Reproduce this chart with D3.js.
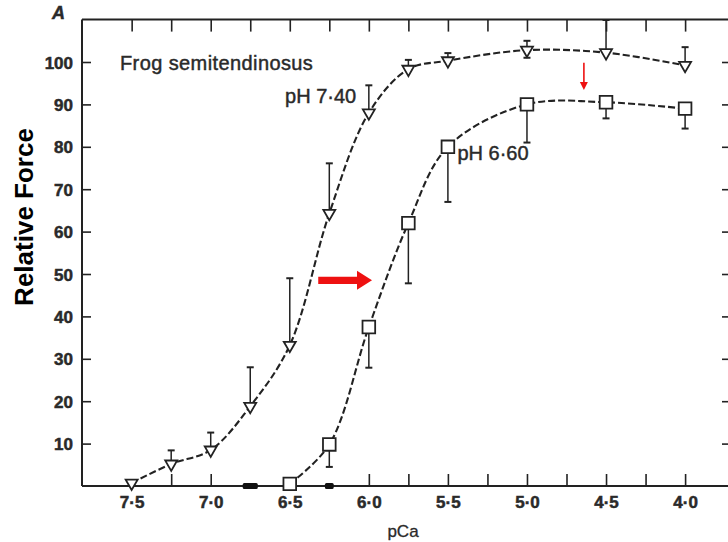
<!DOCTYPE html>
<html>
<head>
<meta charset="utf-8">
<script src="https://cdn.jsdelivr.net/npm/d3@7"></script>
<style>
  html, body { margin: 0; padding: 0; background: #fff; }
  svg { display: block; }
  text { font-family: "Liberation Sans", Arial, Helvetica, sans-serif; }
</style>
</head>
<body>
<svg id="chart" width="728" height="542"></svg>
<script>
// ---------------- data ----------------
const pCa740   = [7.5, 7.25, 7.0, 6.75, 6.5, 6.25, 6.0, 5.75, 5.5, 5.0, 4.5, 4.0];
const force740 = [0.7, 5.2, 8.5, 18.8, 33.2, 64.3, 88.0, 98.3, 100.3, 102.8, 102.2, 99.2];
const errUp740 = [0, 3.2, 4.1, 9.2, 15.8, 11.8, 6.5, 2.2, 1.8, 2.2, 7.7, 4.3];
const errDn740 = [0, 0, 0, 0, 0, 0, 0, 0, 0, 1.8, 0, 0];

const pCa660   = [6.5, 6.25, 6.0, 5.75, 5.5, 5.0, 4.5, 4.0];
const force660 = [0.5, 9.8, 37.5, 62.0, 80.0, 90.0, 90.5, 89.0];
const errDn660 = [0, 5.3, 9.6, 14.2, 13.0, 9.0, 3.8, 4.7];

const yTickValues = [10, 20, 30, 40, 50, 60, 70, 80, 90, 100];
const xLabelValues = [7.5, 7.0, 6.5, 6.0, 5.5, 5.0, 4.5, 4.0];
const xTopTicks = [7.5, 7.25, 7.0, 6.75, 6.5, 6.25, 6.0, 5.75, 5.5, 5.25, 5.0, 4.75, 4.5, 4.25, 4.0];
const xBottomTicks = [7.25, 7.0, 6.0, 5.75, 5.5, 5.25, 5.0, 4.75, 4.5, 4.25, 4.0];
const axisMarks = [{ pCa: 6.75, w: 0.095 }, { pCa: 6.25, w: 0.055 }];

// annotations (red arrows) in data units
const bigArrow = { from: 6.32, to: 5.98, force: 48.5 };
const smallArrow = { pCa: 4.64, from: 99.8, to: 93.4 };

const labelTitle = "Frog semitendinosus";
const labelA = "A";
const label740 = { text: "pH 7·40", pCa: 6.53, force: 90.4 };
const label660 = { text: "pH 6·60", pCa: 5.44, force: 77.0 };
const xTitle = "pCa";
const yTitle = "Relative Force";

// ---------------- scales ----------------
const svg = d3.select("#chart");
const x = d3.scaleLinear().domain([7.814, 3.735]).range([82, 727]);
const y = d3.scaleLinear().domain([0, 110]).range([486, 19.6]);
const fmt = d => d.toFixed(1).replace(".", "·");
const ink = "#222";

// ---------------- frame / axes ----------------
const gL = svg.append("g").attr("transform", `translate(${x.range()[0]},0)`)
  .call(d3.axisLeft(y).tickValues(yTickValues).tickSize(-9).tickPadding(9).tickFormat(d3.format("d")));
const gT = svg.append("g").attr("transform", `translate(0,${y.range()[1]})`)
  .call(d3.axisTop(x).tickValues(xTopTicks).tickSize(-12).tickFormat(""));
const gB = svg.append("g").attr("transform", `translate(0,${y.range()[0]})`)
  .call(d3.axisBottom(x).tickValues(xBottomTicks).tickSize(-12).tickFormat(""));
const gBL = svg.append("g").attr("transform", `translate(0,${y.range()[0]})`)
  .call(d3.axisBottom(x).tickValues(xLabelValues).tickSize(0).tickPadding(10).tickFormat(fmt));
gBL.select(".domain").remove();
const gR = svg.append("g").attr("transform", `translate(729,0)`)
  .call(d3.axisRight(y).tickValues(yTickValues).tickSize(-7).tickFormat(""));

[gL, gT, gB, gR].forEach(g => {
  g.select(".domain").attr("stroke", ink).attr("stroke-width", 2);
  g.selectAll(".tick line").attr("stroke", ink).attr("stroke-width", 1.6);
});
gL.select(".domain").attr("d", `M0,${y.range()[0]}V${y.range()[1]}`);
gT.select(".domain").attr("d", `M${x.range()[0]},0H729`);
gB.select(".domain").attr("d", `M${x.range()[0]},0H729`);
gR.select(".domain").remove();

[gL, gBL].forEach(g => {
  g.selectAll(".tick text")
    .attr("fill", "#2a2a2a")
    .attr("stroke", "#2a2a2a").attr("stroke-width", 0.5)
    .style("font-size", "17px").style("font-weight", "bold");
});
gL.selectAll(".tick text").attr("dy", "0.36em");

// black marks on bottom axis
svg.append("g").selectAll("rect").data(axisMarks).join("rect")
  .attr("x", d => x(d.pCa + d.w / 2))
  .attr("width", d => x(d.pCa - d.w / 2) - x(d.pCa + d.w / 2))
  .attr("y", y(0) - 3).attr("height", 6)
  .attr("rx", 1.5)
  .attr("fill", "#111");

// ---------------- series ----------------
const s740 = pCa740.map((p, i) => ({ p, v: force740[i], up: errUp740[i], dn: errDn740[i] }));
const s660 = pCa660.map((p, i) => ({ p, v: force660[i], up: 0, dn: errDn660[i] }));

function errorBars(data) {
  const g = svg.append("g").attr("stroke", ink).attr("stroke-width", 1.5).attr("fill", "none");
  data.forEach(d => {
    if (d.up > 0) {
      g.append("line").attr("x1", x(d.p)).attr("x2", x(d.p)).attr("y1", y(d.v)).attr("y2", y(d.v + d.up));
      g.append("line").attr("x1", x(d.p) - 3.5).attr("x2", x(d.p) + 3.5).attr("y1", y(d.v + d.up)).attr("y2", y(d.v + d.up)).attr("stroke-width", 2);
    }
    if (d.dn > 0) {
      g.append("line").attr("x1", x(d.p)).attr("x2", x(d.p)).attr("y1", y(d.v)).attr("y2", y(d.v - d.dn));
      g.append("line").attr("x1", x(d.p) - 3.5).attr("x2", x(d.p) + 3.5).attr("y1", y(d.v - d.dn)).attr("y2", y(d.v - d.dn)).attr("stroke-width", 2);
    }
  });
}
errorBars(s740);
errorBars(s660);

const line = d3.line().x(d => x(d.p)).y(d => y(d.v)).curve(d3.curveCatmullRom.alpha(0.5));
[s740, s660].forEach(s => {
  svg.append("path").datum(s).attr("d", line)
    .attr("fill", "none").attr("stroke", ink).attr("stroke-width", 2.1)
    .attr("stroke-dasharray", "7,3");
});

svg.append("g").selectAll("path").data(s740).join("path")
  .attr("d", d3.symbol(d3.symbolTriangle, 62))
  .attr("transform", d => `translate(${x(d.p)},${y(d.v)}) rotate(180)`)
  .attr("fill", "#fff").attr("stroke", ink).attr("stroke-width", 1.8);
svg.append("g").selectAll("path").data(s660).join("path")
  .attr("d", d3.symbol(d3.symbolSquare, 160))
  .attr("transform", d => `translate(${x(d.p)},${y(d.v)})`)
  .attr("fill", "#fff").attr("stroke", ink).attr("stroke-width", 1.8);

// ---------------- text ----------------
function label(txt, px, py, size, extra) {
  const t = svg.append("text").attr("x", px).attr("y", py).text(txt)
    .attr("fill", "#2a2a2a").attr("stroke", "#2a2a2a").attr("stroke-width", 0.45)
    .style("font-size", size + "px");
  if (extra) extra(t);
  return t;
}
label(labelTitle, 120, 70, 20, t => t.style("letter-spacing", "0.4px"));
label(label740.text, x(label740.pCa), y(label740.force), 20);
label(label660.text, x(label660.pCa), y(label660.force), 20);
label(labelA, 52, 19, 18, t => t.style("font-style", "italic").style("font-weight", "bold"));
label(xTitle, 403, 537, 17, t => t.attr("text-anchor", "middle").attr("stroke-width", 0.3));

svg.append("text")
  .attr("transform", "translate(33,217) rotate(-90)")
  .attr("text-anchor", "middle")
  .style("font-size", "26px").style("font-weight", "bold")
  .attr("fill", "#000")
  .text(yTitle);

// ---------------- red arrows ----------------
const red = "#ee1111";
{
  const x0 = x(bigArrow.from), x1 = x(bigArrow.to), yy = y(bigArrow.force);
  const hl = 15, hw = 9.5, sw = 3.6;
  svg.append("path")
    .attr("d", `M${x0},${yy - sw}H${x1 - hl}V${yy - hw}L${x1},${yy}L${x1 - hl},${yy + hw}V${yy + sw}H${x0}Z`)
    .attr("fill", red);
}
{
  const xx = x(smallArrow.pCa), y0 = y(smallArrow.from), y1 = y(smallArrow.to);
  svg.append("line").attr("x1", xx).attr("x2", xx).attr("y1", y0).attr("y2", y1 - 7)
    .attr("stroke", red).attr("stroke-width", 1.6);
  svg.append("path").attr("d", `M${xx - 4},${y1 - 8}L${xx + 4},${y1 - 8}L${xx},${y1}Z`).attr("fill", red);
}
</script>
</body>
</html>
